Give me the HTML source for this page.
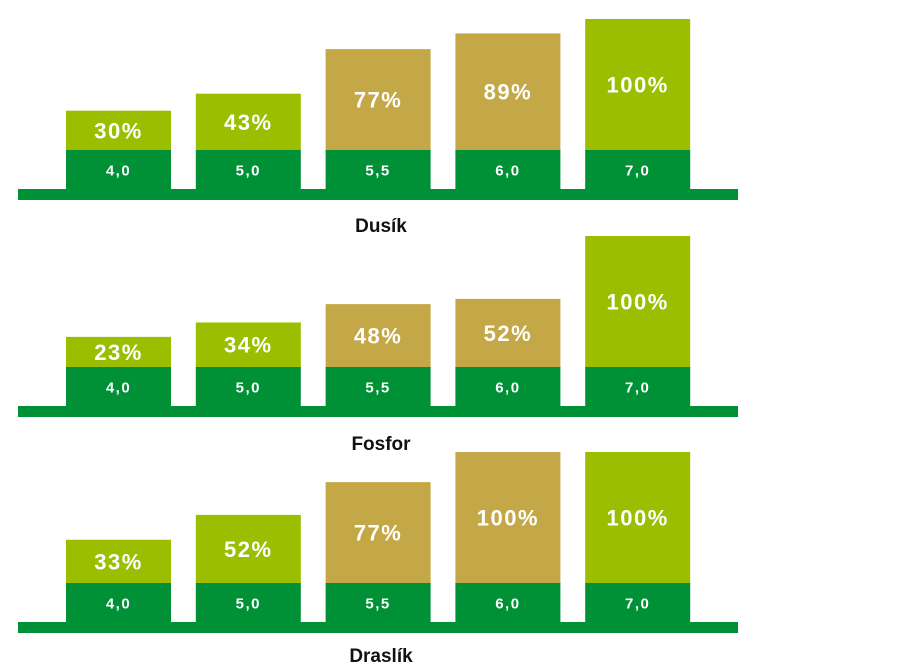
<!DOCTYPE html>
<html><head><meta charset="utf-8"><style>
html,body{margin:0;padding:0;background:#fff;width:921px;height:670px;overflow:hidden}
svg text{font-family:"Liberation Sans","DejaVu Sans",sans-serif;font-weight:bold}
</style></head><body>
<svg id="chart" width="921" height="670" xmlns="http://www.w3.org/2000/svg"></svg>
<script>
const categories = ["4,0","5,0","5,5","6,0","7,0"];
const panelTitles = ["Dusík","Fosfor","Draslík"];
const dusikValues = [30,43,77,89,100];
const fosforValues = [23,34,48,52,100];
const draslikValues = [33,52,77,100,100];
const seriesList = [dusikValues, fosforValues, draslikValues];
const colorKinds = ["light","light","tan","tan","light"];

const NS="http://www.w3.org/2000/svg";
const svg=document.getElementById('chart');
const stripTops=[189,406,622];
const titleY=[232,450,662];
const barX=i=>66+i*129.8;
const barW=105, baseH=39, pxPerPct=1.31;
const yScale=v=>v*pxPerPct;
const colors={light:"#9bbf00",tan:"#c4a847",dark:"#009036"};
function mk(tag,attrs,txt){const e=document.createElementNS(NS,tag);for(const k in attrs)e.setAttribute(k,attrs[k]);if(txt!==undefined)e.textContent=txt;svg.appendChild(e);return e;}

seriesList.forEach((vals,p)=>{
  const st=stripTops[p];
  const baseTop=st-baseH;
  vals.forEach((v,i)=>{
    const x=barX(i), h=yScale(v);
    const up=mk('rect',{x:x,y:baseTop-h,width:barW,height:h+1,fill:colors[colorKinds[i]]});
    
    
    const b=mk('rect',{x:x,y:baseTop,width:barW,height:baseH+1,fill:colors.dark});
    
    
    const pt=mk('text',{x:x+barW/2,y:baseTop-h/2+8,'text-anchor':'middle',fill:'#fff','font-size':22,'letter-spacing':1.5},v+'%');
    
    
    const ct=mk('text',{x:x+barW/2,y:baseTop+baseH/2+6,'text-anchor':'middle',fill:'#fff','font-size':15,'letter-spacing':1.5},categories[i]);
    
    
  });
  const s=mk('rect',{x:18,y:st,width:720,height:11,fill:colors.dark});
  
  
  const t=mk('text',{x:381,y:titleY[p],'text-anchor':'middle',fill:'#111','font-size':19},panelTitles[p]);
  
  
});
</script>
</body></html>
